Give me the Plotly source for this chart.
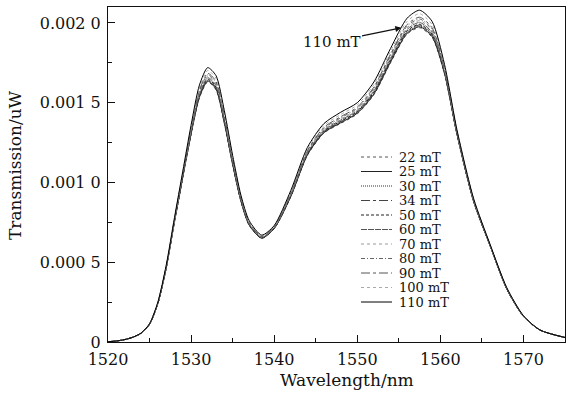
import plotly.graph_objects as go

# Wavelength sample points (nm)
wavelength = [1520, 1521, 1522, 1523, 1524, 1525, 1526, 1527, 1528, 1529, 1530, 1531,
              1532, 1533, 1534, 1535, 1536, 1537, 1538.5, 1540, 1542, 1544, 1546, 1548,
              1550, 1552, 1554, 1556, 1557.5, 1559, 1560.5, 1562, 1564, 1566, 1568, 1570,
              1572, 1575]

UNIT = 1e-5  # values below are in units of 1e-5 uW

t_22 = [0.2, 0.6, 1.5, 3.0, 5.5, 11.0, 24.0, 46.0, 75.0, 103.0, 130.0, 153.0, 163.0, 158.0, 137.0, 111.0, 88.0, 73.0, 65.0, 71.0, 91.0, 117.0, 131.0, 137.0, 143.0, 155.0, 175.0, 193.0, 197.0, 191.0, 168.0, 130.0, 88.0, 60.0, 33.0, 16.0, 7.5, 2.8]
t_25 = [0.2, 0.6, 1.5, 3.0, 5.5, 11.0, 24.1, 46.1, 75.2, 103.2, 130.3, 153.4, 163.5, 158.5, 137.4, 111.3, 88.2, 73.2, 65.1, 71.1, 91.2, 117.3, 131.3, 137.4, 143.4, 155.4, 175.5, 193.5, 197.6, 191.5, 168.3, 130.2, 88.1, 60.1, 33.1, 16.0, 7.5, 2.8]
t_30 = [0.2, 0.6, 1.5, 3.0, 5.5, 11.1, 24.1, 46.2, 75.3, 103.4, 130.6, 153.8, 163.9, 158.9, 137.8, 111.6, 88.4, 73.3, 65.2, 71.2, 91.4, 117.5, 131.6, 137.7, 143.7, 155.8, 175.9, 194.0, 198.1, 192.0, 168.6, 130.3, 88.2, 60.1, 33.1, 16.1, 7.5, 2.8]
t_34 = [0.2, 0.6, 1.5, 3.0, 5.5, 11.1, 24.2, 46.3, 75.5, 103.6, 130.9, 154.2, 164.4, 159.4, 138.2, 111.9, 88.6, 73.5, 65.3, 71.3, 91.6, 117.8, 131.9, 138.1, 144.1, 156.2, 176.4, 194.5, 198.7, 192.5, 168.9, 130.5, 88.3, 60.2, 33.2, 16.1, 7.5, 2.8]
t_50 = [0.2, 0.6, 1.5, 3.0, 5.5, 11.1, 24.2, 46.4, 75.6, 103.8, 131.2, 154.6, 164.8, 159.8, 138.6, 112.2, 88.8, 73.6, 65.4, 71.4, 91.8, 118.0, 132.2, 138.4, 144.4, 156.6, 176.8, 195.0, 199.2, 193.0, 169.2, 130.6, 88.4, 60.2, 33.2, 16.1, 7.5, 2.8]
t_60 = [0.2, 0.6, 1.5, 3.0, 5.6, 11.2, 24.3, 46.6, 75.9, 104.2, 131.8, 155.4, 165.7, 160.7, 139.4, 112.8, 89.2, 73.9, 65.6, 71.6, 92.2, 118.5, 132.8, 139.1, 145.1, 157.4, 177.7, 196.0, 200.3, 194.0, 169.8, 130.9, 88.6, 60.3, 33.3, 16.2, 7.5, 2.8]
t_70 = [0.2, 0.6, 1.5, 3.0, 5.6, 11.2, 24.4, 46.8, 76.2, 104.6, 132.4, 156.2, 166.6, 161.6, 140.2, 113.4, 89.6, 74.2, 65.8, 71.8, 92.6, 119.0, 133.4, 139.8, 145.8, 158.2, 178.6, 197.0, 201.4, 195.0, 170.4, 131.2, 88.8, 60.4, 33.4, 16.2, 7.5, 2.8]
t_80 = [0.2, 0.6, 1.5, 3.0, 5.6, 11.3, 24.5, 47.0, 76.5, 105.0, 133.0, 157.0, 167.5, 162.5, 141.0, 114.0, 90.0, 74.5, 66.0, 72.0, 93.0, 119.5, 134.0, 140.5, 146.5, 159.0, 179.5, 198.0, 202.5, 196.0, 171.0, 131.5, 89.0, 60.5, 33.5, 16.3, 7.5, 2.8]
t_90 = [0.2, 0.6, 1.5, 3.0, 5.6, 11.3, 24.6, 47.2, 76.8, 105.4, 133.6, 157.8, 168.4, 163.4, 141.8, 114.6, 90.4, 74.8, 66.2, 72.2, 93.4, 120.0, 134.6, 141.2, 147.2, 159.8, 180.4, 199.0, 203.6, 197.0, 171.6, 131.8, 89.2, 60.6, 33.6, 16.3, 7.5, 2.8]
t_100 = [0.2, 0.6, 1.5, 3.0, 5.7, 11.4, 24.8, 47.6, 77.4, 106.2, 134.8, 159.4, 170.2, 165.2, 143.4, 115.8, 91.2, 75.4, 66.6, 72.6, 94.2, 121.0, 135.8, 142.6, 148.6, 161.4, 182.2, 201.0, 205.8, 199.0, 172.8, 132.4, 89.6, 60.8, 33.8, 16.4, 7.5, 2.8]
t_110 = [0.2, 0.6, 1.5, 3.0, 5.7, 11.5, 25.0, 48.0, 78.0, 107.0, 136.0, 161.0, 172.0, 167.0, 145.0, 117.0, 92.0, 76.0, 67.0, 73.0, 95.0, 122.0, 137.0, 144.0, 150.0, 163.0, 184.0, 203.0, 208.0, 201.0, 174.0, 133.0, 90.0, 61.0, 34.0, 16.5, 7.5, 2.8]

series_names = ["22 mT", "25 mT", "30 mT", "34 mT", "50 mT", "60 mT",
                "70 mT", "80 mT", "90 mT", "100 mT", "110 mT"]
series_values = [t_22, t_25, t_30, t_34, t_50, t_60, t_70, t_80, t_90, t_100, t_110]

x_ticks = [1520, 1530, 1540, 1550, 1560, 1570]
y_ticks = [0, 0.0005, 0.0010, 0.0015, 0.0020]
y_ticktext = ["0", "0.000 5", "0.001 0", "0.001 5", "0.002 0"]

styles = [
    dict(color="#555555", dash="dot"),
    dict(color="#222222", dash="solid"),
    dict(color="#333333", dash="1px,1px"),
    dict(color="#444444", dash="dashdot"),
    dict(color="#222222", dash="3px,2px"),
    dict(color="#555555", dash="6px,1px"),
    dict(color="#999999", dash="dot"),
    dict(color="#666666", dash="4px,2px,1px,2px"),
    dict(color="#555555", dash="dashdot"),
    dict(color="#aaaaaa", dash="dot"),
    dict(color="#000000", dash="solid"),
]

FONT = "DejaVu Serif"

fig = go.Figure()
for name, vals, st in zip(series_names, series_values, styles):
    fig.add_trace(go.Scatter(
        x=wavelength, y=[v * UNIT for v in vals], mode="lines", name=name,
        line=dict(color=st["color"], dash=st["dash"], width=1, shape="spline", smoothing=0.7),
        showlegend=False,
    ))

# Page / plot geometry (pixels)
W, H = 566, 400
ml, mr, mt, mb = 108, 1, 7, 58
pw, ph = W - ml - mr, H - mt - mb
def px_x(px):
    return (px - ml) / pw
def px_y(py):
    return (H - mb - py) / ph

# Compact legend drawn inside the plot
for i, (name, st) in enumerate(zip(series_names, styles)):
    yc = 157 + 14.5 * i
    fig.add_shape(type="line", xref="paper", yref="paper",
                  x0=px_x(361), x1=px_x(392), y0=px_y(yc), y1=px_y(yc),
                  line=dict(color=st["color"], dash=st["dash"], width=1))
    fig.add_annotation(xref="paper", yref="paper", x=px_x(397), y=px_y(yc),
                       xanchor="left", yanchor="middle", showarrow=False,
                       text=name, font=dict(family=FONT, size=13, color="#111"))

# "110 mT" arrow label
fig.add_annotation(x=1555.3, y=0.00197, ax=1546.9, ay=0.00188, axref="x", ayref="y",
                   xref="x", yref="y", text="110 mT", showarrow=True,
                   arrowhead=2, arrowsize=1, arrowwidth=1.2, arrowcolor="#111",
                   font=dict(family=FONT, size=15, color="#111"))

# Axis titles
fig.add_annotation(xref="paper", yref="paper", x=px_x(347), y=px_y(380),
                   xanchor="center", yanchor="middle", showarrow=False,
                   text="Wavelength/nm", font=dict(family=FONT, size=17, color="#111"))
fig.add_annotation(xref="paper", yref="paper", x=px_x(15), y=px_y(165),
                   xanchor="center", yanchor="middle", showarrow=False, textangle=-90,
                   text="Transmission/uW", font=dict(family=FONT, size=17, color="#111"))

fig.update_layout(
    width=W, height=H,
    margin=dict(l=ml, r=mr, t=mt, b=mb),
    paper_bgcolor="white", plot_bgcolor="white",
    font=dict(family=FONT, size=16, color="#111"),
    showlegend=False,
)
fig.update_xaxes(
    range=[1520, 1575], tickvals=x_ticks, ticks="inside", ticklen=7, tickwidth=1,
    tickcolor="#111", showline=True, linecolor="#111", linewidth=1, mirror=True,
    showgrid=False, zeroline=False,
    minor=dict(dtick=5, ticks="inside", ticklen=4, tickcolor="#111", showgrid=False),
    tickfont=dict(family=FONT, size=16),
    ticklabelstandoff=3,
)
fig.update_yaxes(
    range=[0, 0.0021], tickvals=y_ticks, ticktext=y_ticktext, ticks="inside",
    ticklen=7, tickwidth=1, tickcolor="#111", showline=True, linecolor="#111",
    linewidth=1, mirror=True, showgrid=False, zeroline=False,
    minor=dict(tickvals=[0.00025, 0.00075, 0.00125, 0.00175], ticks="inside",
               ticklen=4, tickcolor="#111", showgrid=False),
    tickfont=dict(family=FONT, size=16),
    ticklabelstandoff=3,
)

fig.write_html("out.html", config={"displayModeBar": False},
               post_script="document.body.style.margin='0';")
